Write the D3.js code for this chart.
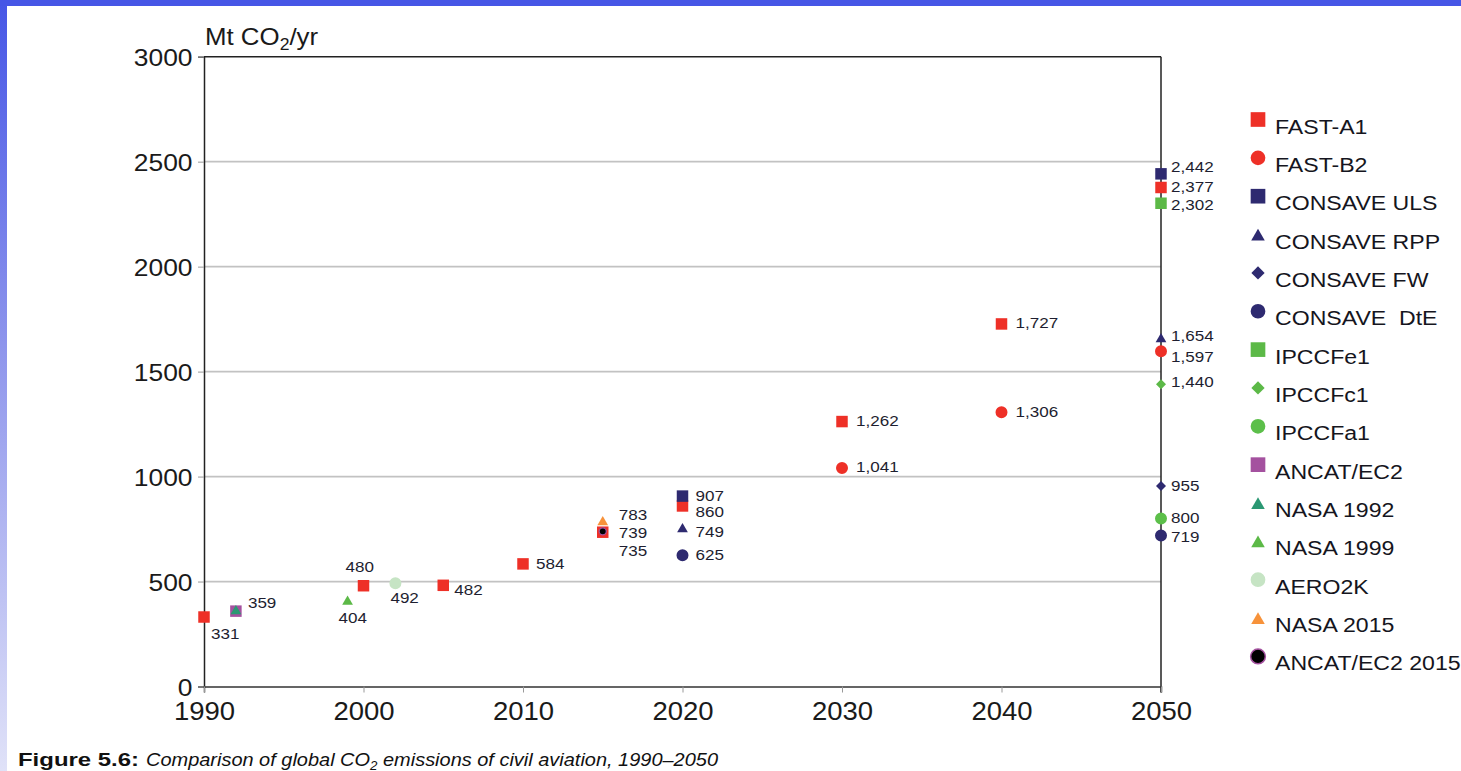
<!DOCTYPE html>
<html><head><meta charset="utf-8">
<script src="https://cdn.jsdelivr.net/npm/d3@7"></script>
<style>
html,body{margin:0;padding:0;background:#fff;overflow:hidden}
svg{display:block}
</style></head>
<body>
<svg id="chart" width="1461" height="771"></svg>
<script>
// ---------- data ----------
const xTicks = [1990, 2000, 2010, 2020, 2030, 2040, 2050];
const yTicks = [0, 500, 1000, 1500, 2000, 2500, 3000];
const seriesNames = ["FAST-A1","FAST-B2","CONSAVE ULS","CONSAVE RPP","CONSAVE FW","CONSAVE  DtE",
  "IPCCFe1","IPCCFc1","IPCCFa1","ANCAT/EC2","NASA 1992","NASA 1999","AERO2K","NASA 2015","ANCAT/EC2 2015"];
const fastA1      = [[1990,331],[2000,480],[2005,482],[2010,584],[2015,735],[2020,860],[2030,1262],[2040,1727],[2050,2377]];
const fastB2      = [[2030,1041],[2040,1306],[2050,1597]];
const consaveULS  = [[2020,907],[2050,2442]];
const consaveRPP  = [[2020,749],[2050,1654]];
const consaveFW   = [[2050,955]];
const consaveDtE  = [[2020,625],[2050,719]];
const ipccFe1     = [[2050,2302]];
const ipccFc1     = [[2050,1440]];
const ipccFa1     = [[2050,800]];
const ancatEC2    = [[1992,359]];
const nasa1992    = [[1992,359]];
const nasa1999    = [[1999,404]];
const aero2k      = [[2002,492]];
const nasa2015    = [[2015,783]];
const ancatEC2015 = [[2015,739]];

// ---------- styles / layout ----------
const seriesData = [fastA1, fastB2, consaveULS, consaveRPP, consaveFW, consaveDtE,
  ipccFe1, ipccFc1, ipccFa1, ancatEC2, nasa1992, nasa1999, aero2k, nasa2015, ancatEC2015];
const seriesStyle = [
  {shape:"square",  fill:"#ee3027"},
  {shape:"circle",  fill:"#ee3027"},
  {shape:"square",  fill:"#2e2a70"},
  {shape:"triangle",fill:"#2e2a70"},
  {shape:"diamond", fill:"#2e2a70"},
  {shape:"circle",  fill:"#2e2a70"},
  {shape:"square",  fill:"#5cb947"},
  {shape:"diamond", fill:"#5cb947"},
  {shape:"circle",  fill:"#5cbf4a"},
  {shape:"square",  fill:"#a4519f"},
  {shape:"triangle",fill:"#2b9873"},
  {shape:"triangle",fill:"#5cb947"},
  {shape:"circle",  fill:"#c6e4c4"},
  {shape:"triangle",fill:"#f7923a"},
  {shape:"circle",  fill:"#000000", stroke:"#a4519f"}
];
// draw order (index into series) so overlapping marks stack as in the figure
const drawOrder = [0,1,2,3,4,5,6,7,8,9,10,11,12,13,14];
// label offsets (dx, baseline dy) keyed "seriesIndex|year"
const labelOffsets = {
  "0|1990":[7,22], "9|1992":[12,-3], "11|1999":[-9,21], "0|2000":[-18,-14],
  "12|2002":[-5,20], "0|2005":[11,10], "0|2010":[13,5],
  "13|2015":[16,-2], "14|2015":[16,6.5], "0|2015":[16,24],
  "2|2020":[13,5], "0|2020":[13,11], "3|2020":[13,8], "5|2020":[13,4.6],
  "0|2030":[14,4.3], "1|2030":[14,3.6], "0|2040":[14,4], "1|2040":[14,5],
  "2|2050":[10,-1.5], "0|2050":[10,4.6], "6|2050":[10,7.2], "3|2050":[10,1.3],
  "1|2050":[10,10.3], "7|2050":[10,2.4], "4|2050":[10,4.6], "8|2050":[10,4.7], "5|2050":[10,6]
};

const SX = 1.1; // horizontal stretch of the original figure's type
const svg = d3.select("#chart");
const W = 1461, H = 771;

// ---------- frame decoration ----------
const defs = svg.append("defs");
const lg = defs.append("linearGradient").attr("id","lg").attr("x1",0).attr("y1",0).attr("x2",0).attr("y2",1);
lg.append("stop").attr("offset","0%").attr("stop-color","#4656e6");
lg.append("stop").attr("offset","45%").attr("stop-color","#8e95ec");
lg.append("stop").attr("offset","100%").attr("stop-color","#e0e2f8");
svg.append("rect").attr("x",0).attr("y",0).attr("width",W).attr("height",H).attr("fill","#fff");
svg.append("rect").attr("x",0).attr("y",0).attr("width",7).attr("height",H).attr("fill","url(#lg)");
svg.append("rect").attr("x",0).attr("y",0).attr("width",W).attr("height",6).attr("fill","#4656e6");

// ---------- scales ----------
const x = d3.scaleLinear().domain([1990, 2050]).range([204, 1161]);
const y = d3.scaleLinear().domain([0, 3000]).range([686.5, 56.7]);

// gridlines
svg.append("g").selectAll("line").data(yTicks.filter(v => v > 0 && v < 3000)).join("line")
  .attr("x1", x(1990)).attr("x2", x(2050))
  .attr("y1", d => y(d)).attr("y2", d => y(d))
  .attr("stroke", "#c2c2c2").attr("stroke-width", 1.8);

// frame top & right
svg.append("line").attr("x1", x(1990)).attr("x2", x(2050)).attr("y1", y(3000)).attr("y2", y(3000))
  .attr("stroke", "#222").attr("stroke-width", 1.5);
svg.append("line").attr("x1", x(2050)).attr("x2", x(2050)).attr("y1", y(3000)).attr("y2", y(0)+6)
  .attr("stroke", "#222").attr("stroke-width", 1.5);

// y axis
const yAxis = svg.append("g").attr("transform", `translate(${x(1990)},0)`)
  .call(d3.axisLeft(y).tickValues(yTicks).tickSize(6).tickFormat(d3.format("d")));
yAxis.select(".domain").attr("stroke", "#222").attr("stroke-width", 1.5);
yAxis.selectAll(".tick line").attr("stroke", "#999");
yAxis.selectAll(".tick text")
  .attr("x", -11.5 / SX).attr("dy", null).attr("y", 8.5)
  .attr("transform", `scale(${SX},1)`)
  .attr("font-family", "Liberation Sans, Arial, sans-serif").attr("font-size", 24).attr("fill", "#1a1a1a");

// x axis
const xAxis = svg.append("g").attr("transform", `translate(0,${y(0)})`)
  .call(d3.axisBottom(x).tickValues(xTicks).tickSize(6).tickFormat(d3.format("d")));
xAxis.select(".domain").attr("stroke", "#333").attr("stroke-width", 1.5);
xAxis.selectAll(".tick line").attr("stroke", "#999");
xAxis.selectAll(".tick text")
  .attr("dy", null).attr("y", 33.5)
  .attr("transform", `scale(${SX},1)`)
  .attr("font-family", "Liberation Sans, Arial, sans-serif").attr("font-size", 25).attr("fill", "#1a1a1a");

// y axis title
const yt = svg.append("text").attr("transform", `translate(205,45) scale(${SX},1)`)
  .attr("font-family", "Liberation Sans, Arial, sans-serif").attr("font-size", 23.5).attr("fill", "#1a1a1a");
yt.append("tspan").text("Mt CO");
yt.append("tspan").attr("font-size", 16).attr("dy", 5).text("2");
yt.append("tspan").attr("dy", -5).text("/yr");

// ---------- symbols ----------
function symPath(shape, size) {
  const t = {square: d3.symbolSquare, circle: d3.symbolCircle, triangle: d3.symbolTriangle, diamond: d3.symbolSquare}[shape];
  return d3.symbol().type(t).size(size)();
}
const plotSize = {square: 132, circle: 113, triangle: 50, diamond: 50};
const legSize  = {square: 215, circle: 170, triangle: 80, diamond: 88};

const marks = svg.append("g");
drawOrder.forEach(i => {
  const st = seriesStyle[i];
  let size = plotSize[st.shape];
  if (i === 14) size = 40;
  marks.append("g").selectAll("path").data(seriesData[i]).join("path")
    .attr("d", symPath(st.shape, size))
    .attr("transform", d => `translate(${x(d[0])},${y(d[1])})` + (st.shape === "diamond" ? " rotate(45)" : ""))
    .attr("fill", st.fill)
    .attr("stroke", st.stroke || "none").attr("stroke-width", st.stroke ? 1.2 : 0);
});

// value labels
const fmt = d3.format(",");
const labels = svg.append("g");
seriesData.forEach((arr, i) => {
  arr.forEach(d => {
    const off = labelOffsets[i + "|" + d[0]];
    if (!off) return;
    labels.append("text")
      .attr("transform", `translate(${x(d[0]) + off[0]},${y(d[1]) + off[1]}) scale(${SX},1)`)
      .attr("font-family", "Liberation Sans, Arial, sans-serif").attr("font-size", 15.5)
      .attr("fill", "#1e1e30").text(fmt(d[1]));
  });
});

// ---------- legend ----------
const leg = svg.append("g");
seriesNames.forEach((name, k) => {
  const st = seriesStyle[k];
  const base = 133.5 + 38.35 * k;
  const cy = base - 14 + (st.shape === "triangle" ? 2 : 0);
  leg.append("path").attr("d", symPath(st.shape, legSize[st.shape]))
    .attr("transform", `translate(1258,${cy})` + (st.shape === "diamond" ? " rotate(45)" : ""))
    .attr("fill", st.fill)
    .attr("stroke", st.stroke || "none").attr("stroke-width", st.stroke ? 1.5 : 0);
  leg.append("text").attr("transform", `translate(1275,${base}) scale(${SX},1)`)
    .attr("font-family", "Liberation Sans, Arial, sans-serif").attr("font-size", 21)
    .attr("fill", "#151520").attr("xml:space", "preserve").style("white-space", "pre").text(name);
});

// ---------- caption ----------
svg.append("text").attr("x", 18).attr("y", 766)
  .attr("font-family", "Liberation Sans, Arial, sans-serif").attr("font-weight", "bold")
  .attr("font-size", 18).attr("fill", "#111")
  .attr("textLength", 121).attr("lengthAdjust", "spacingAndGlyphs").text("Figure 5.6:");
const cap = svg.append("text").attr("x", 146).attr("y", 766)
  .attr("font-family", "Liberation Sans Narrow, Liberation Sans, Arial, sans-serif").attr("font-style", "italic")
  .attr("font-size", 18).attr("fill", "#111")
  .attr("textLength", 572).attr("lengthAdjust", "spacingAndGlyphs");
cap.append("tspan").text("Comparison of global CO");
cap.append("tspan").attr("font-size", 12).attr("dy", 4).text("2");
cap.append("tspan").attr("dy", -4).text(" emissions of civil aviation, 1990\u20132050");
</script>
</body></html>
